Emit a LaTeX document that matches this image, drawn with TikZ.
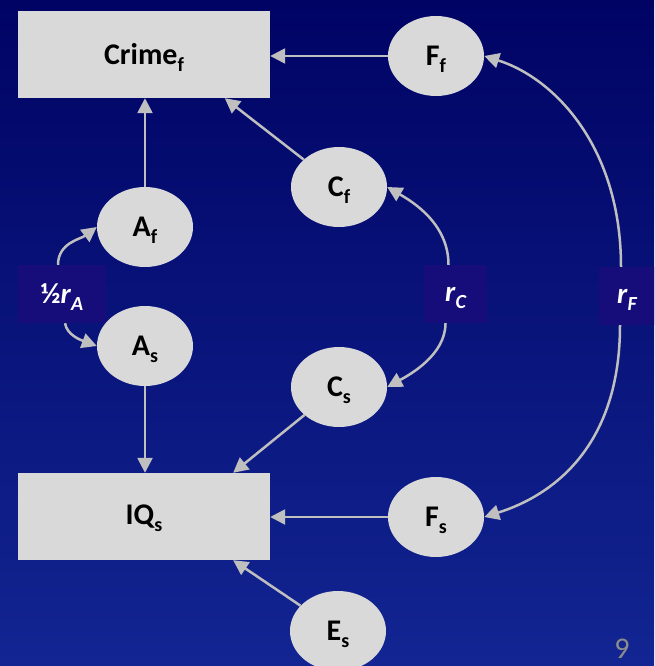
\documentclass[tikz,border=0pt]{standalone}
\usepackage{fontspec}
\setmainfont{Carlito}
\usetikzlibrary{arrows.meta,shapes.geometric,calc}
\definecolor{bgtop}{RGB}{0,3,100}
\definecolor{bgbot}{RGB}{18,37,146}
\definecolor{lblbg}{RGB}{22,12,122}
\definecolor{boxgray}{RGB}{217,217,217}
\definecolor{arrgray}{RGB}{191,191,191}
\definecolor{numgray}{RGB}{140,140,140}
\newcommand{\sbs}[1]{\raisebox{-7pt}[0pt][0pt]{\fontsize{20}{20}\selectfont #1}}
\newcommand{\lsbs}[1]{\raisebox{-7pt}[0pt][0pt]{\fontsize{20}{20}\selectfont\itshape #1}}
\begin{document}
\begin{tikzpicture}[x=1pt,y=-1pt,
  rectbox/.style={fill=boxgray,draw=none,minimum width=252pt,minimum height=87pt,inner sep=0pt,
    font=\fontsize{30}{36}\selectfont\bfseries,text=black},
  ellnode/.style={ellipse,fill=boxgray,draw=none,minimum width=96pt,minimum height=80pt,inner sep=0pt,
    font=\fontsize{30}{36}\selectfont\bfseries,text=black},
  lblbox/.style={fill=lblbg,draw=none,inner sep=0pt,text=white,
    font=\fontsize{29}{34}\selectfont\bfseries},
  arr/.style={draw=arrgray,line width=2.5pt,-{Triangle[length=15pt,width=15pt]}}
]
\shade[top color=bgtop,bottom color=bgbot] (0,0) rectangle (654,666);
\useasboundingbox (0,0) rectangle (654,666);
\clip (0,0) rectangle (654,666);

\node[rectbox] (crime) at (144,54.5) {Crime\sbs{f}};
\node[rectbox] (iq) at (144,516.5) {IQ\sbs{s}};
\node[ellnode] (Ff) at (436,56) {F\sbs{f}};
\node[ellnode] (Cf) at (339,187) {C\sbs{f}};
\node[ellnode] (Af) at (145,227) {A\sbs{f}};
\node[ellnode] (As) at (145,346) {A\sbs{s}};
\node[ellnode] (Cs) at (339,387) {C\sbs{s}};
\node[ellnode] (Fs) at (436,517) {F\sbs{s}};
\node[ellnode] (Es) at (338,631) {E\sbs{s}};

\node[lblbox,minimum width=88pt,minimum height=58pt] (lA) at (62,294) {½\textit{r}\lsbs{A}};
\node[lblbox,minimum width=63pt,minimum height=58pt] (lC) at (455.5,294) {\textit{r}\lsbs{C}};
\node[lblbox,minimum width=56pt,minimum height=58pt] (lF) at (627,296) {\textit{r}\lsbs{F}};

\node[text=numgray,font=\fontsize{30}{36}\selectfont] (pg) at (622,649) {9};

% straight arrows
\draw[arr] (Ff.west) -- (Ff.west -| crime.east);
\draw[arr] (Af.north) -- (Af.north |- crime.south);
\coordinate (cT) at ($(crime.south west)!0.82!(crime.south east)$);
\draw[arr] (Cf) -- (cT);
\draw[arr] (As.south) -- (As.south |- iq.north);
\coordinate (iT) at ($(iq.north west)!0.853!(iq.north east)$);
\draw[arr] (Cs) -- (iT);
\draw[arr] (Fs.west) -- (Fs.west -| iq.east);
\coordinate (iB) at ($(iq.south west)!0.853!(iq.south east)$);
\draw[arr] (Es) -- (iB);

% curved correlations
\draw[arr] ([xshift=-4pt]lA.north) .. controls +(0,-22) and +(-16,12) .. (Af.west);
\draw[arr] ([xshift=3pt]lA.south) .. controls +(2,12) and +(-16,-6) .. (As.west);
\draw[arr] ([xshift=-7pt]lC.north) .. controls +(0,-42) and +(24,14) .. (Cf.east);
\draw[arr] ([xshift=-10pt]lC.south) .. controls +(0,32) and +(22,-12) .. (Cs.east);
\draw[arr] ([xshift=-6pt]lF.north) .. controls +(0,-120) and +(70,22) .. (Ff.east);
\draw[arr] ([xshift=-7pt]lF.south) .. controls +(0,120) and +(70,-22) .. (Fs.east);
\end{tikzpicture}
\end{document}
